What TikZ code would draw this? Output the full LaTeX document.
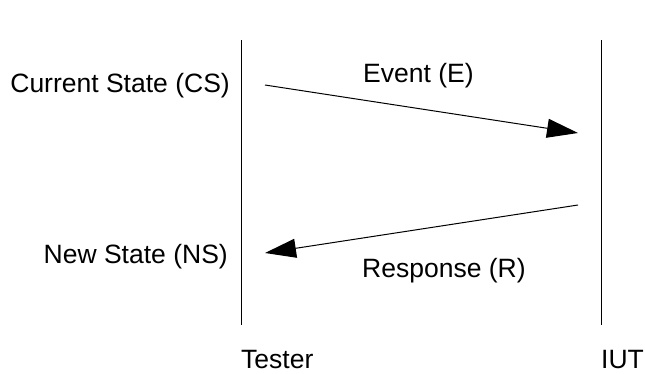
\documentclass[tikz,border=0pt]{standalone}
\usepackage{fontspec}
\setmainfont{Liberation Sans}
\usetikzlibrary{arrows.meta}
\begin{document}
\begin{tikzpicture}[x=1bp,y=1bp,
  lbl/.style={inner sep=0pt,font=\fontsize{26.5bp}{30bp}\selectfont},
  msg/.style={line width=1bp,-{Triangle[length=31bp,width=19bp]}},
  life/.style={line width=1bp}]
\useasboundingbox (0,0) rectangle (645,373);
\coordinate (t1) at (241,333);
\coordinate (t2) at (241,48);
\coordinate (i1) at (601,333);
\coordinate (i2) at (601,48);
\draw[life] (t1) -- (t2);
\draw[life] (i1) -- (i2);
\coordinate (e1) at (265,288);
\coordinate (e2) at (578,240);
\coordinate (r1) at (578,168);
\coordinate (r2) at (265,120);
\draw[msg] (e1) -- (e2);
\draw[msg] (r1) -- (r2);
\node[lbl,anchor=base east] (cs) at (230,281) {Current State (CS)};
\node[lbl,anchor=base west] (ev) at (363,291) {Event (E)};
\node[lbl,anchor=base east] (ns) at (228,110) {New State (NS)};
\node[lbl,anchor=base west] (rs) at (362,96) {Response (R)};
\node[lbl,anchor=base west] (te) at (241,5) {Tester};
\node[lbl,anchor=base west] (iu) at (601,5) {IUT};
\end{tikzpicture}
\end{document}
